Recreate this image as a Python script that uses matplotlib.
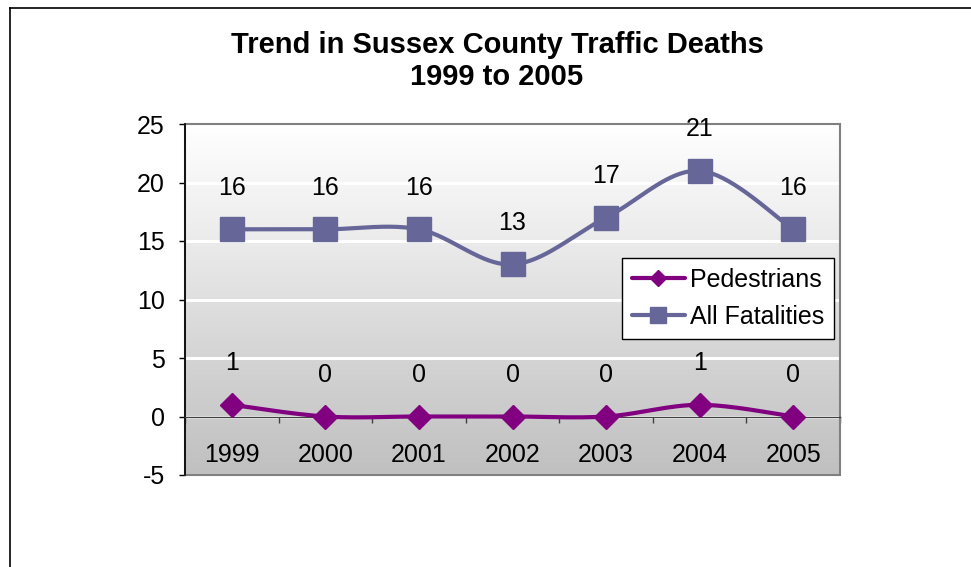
import numpy as np
import matplotlib.pyplot as plt
from matplotlib.colors import LinearSegmentedColormap
from matplotlib.lines import Line2D
from matplotlib.patches import Rectangle

plt.rcParams['font.family'] = ['Liberation Sans', 'DejaVu Sans']

years = ['1999', '2000', '2001', '2002', '2003', '2004', '2005']
pedestrians = [1, 0, 0, 0, 0, 1, 0]
all_fatalities = [16, 16, 16, 13, 17, 21, 16]
y_ticks = [-5, 0, 5, 10, 15, 20, 25]

COLOR_PED = '#800080'
COLOR_ALL = '#666699'
FS = 18


def smooth(xs, ys, n=40):
    # Catmull-Rom spline, close to Excel's "smoothed line" option
    xs = np.asarray(xs, float)
    ys = np.asarray(ys, float)
    px = np.concatenate([[xs[0]], xs, [xs[-1]]])
    py = np.concatenate([[ys[0]], ys, [ys[-1]]])
    out_x, out_y = [], []
    t = np.linspace(0, 1, n)
    for i in range(1, len(px) - 2):
        p0, p1, p2, p3 = px[i - 1], px[i], px[i + 1], px[i + 2]
        q0, q1, q2, q3 = py[i - 1], py[i], py[i + 1], py[i + 2]
        c1x, c1y = p1 + (p2 - p0) / 6, q1 + (q2 - q0) / 6
        c2x, c2y = p2 - (p3 - p1) / 6, q2 - (q3 - q1) / 6
        bx = (1 - t)**3 * p1 + 3 * (1 - t)**2 * t * c1x + 3 * (1 - t) * t**2 * c2x + t**3 * p2
        by = (1 - t)**3 * q1 + 3 * (1 - t)**2 * t * c1y + 3 * (1 - t) * t**2 * c2y + t**3 * q2
        out_x.extend(bx)
        out_y.extend(by)
    return np.array(out_x), np.array(out_y)


fig = plt.figure(figsize=(9.71, 5.67), dpi=100)
ax = fig.add_axes([185 / 971, 1 - 475 / 567, 655 / 971, 351 / 567])

x = np.arange(len(years))
ax.set_xlim(-0.5, len(years) - 0.5)
ax.set_ylim(-5, 25)

# gradient background (white at top to grey at bottom)
cmap = LinearSegmentedColormap.from_list('bg', ['#c0c0c0', '#d4d4d4', '#ebebeb', '#ffffff'])
grad = np.linspace(0, 1, 256).reshape(-1, 1)
ax.imshow(grad, cmap=cmap, aspect='auto', extent=(0, 1, 0, 1),
          transform=ax.transAxes, origin='lower', zorder=0)

for v in y_ticks:
    ax.axhline(v, color='white', lw=2.2, zorder=1)

# plot area border
ax.add_patch(Rectangle((0, 0), 1, 1, transform=ax.transAxes, fill=False,
                       edgecolor='#808080', lw=1.5, zorder=2, clip_on=False))

# series
sx, sy = smooth(x, all_fatalities)
ax.plot(sx, sy, color=COLOR_ALL, lw=3, zorder=4, solid_capstyle='round')
ax.plot(x, all_fatalities, ls='none', marker='s', ms=17, color=COLOR_ALL, zorder=5)

px_, py_ = smooth(x, pedestrians)
ax.plot(px_, py_, color=COLOR_PED, lw=3, zorder=4, solid_capstyle='round')
ax.plot(x, pedestrians, ls='none', marker='D', ms=12.5, color=COLOR_PED, zorder=5)

for xi, v in zip(x, all_fatalities):
    ax.annotate(str(v), (xi, v), xytext=(0, 30), textcoords='offset points',
                ha='center', va='center', fontsize=FS, zorder=6)
for xi, v in zip(x, pedestrians):
    ax.annotate(str(v), (xi, v), xytext=(0, 30), textcoords='offset points',
                ha='center', va='center', fontsize=FS, zorder=6)

# axes styling
for s in ['top', 'right']:
    ax.spines[s].set_visible(False)
ax.spines['bottom'].set_position(('data', 0))
ax.spines['bottom'].set_color('#404040')
ax.spines['bottom'].set_linewidth(1)
ax.spines['bottom'].set_zorder(3)
ax.spines['left'].set_color('black')
ax.spines['left'].set_linewidth(1.2)
ax.spines['left'].set_zorder(3)

ax.set_yticks(y_ticks)
ax.set_yticklabels([str(v) for v in y_ticks])
ax.tick_params(axis='y', direction='out', length=4.5, width=1, pad=10, labelsize=FS)

ax.set_xticks(x)
ax.set_xticklabels(years)
ax.set_xticks(np.arange(len(years) + 1) - 0.5, minor=True)
ax.tick_params(axis='x', which='major', length=0, pad=19, labelsize=FS)
ax.tick_params(axis='x', which='minor', direction='out', length=4.5, width=1, color='#404040')

leg_handles = [
    Line2D([], [], color=COLOR_PED, lw=3, marker='D', ms=8.5, solid_capstyle='round'),
    Line2D([], [], color=COLOR_ALL, lw=3, marker='s', ms=11, solid_capstyle='round'),
]
leg = ax.legend(leg_handles, ['Pedestrians', 'All Fatalities'],
                loc='upper left', bbox_to_anchor=(622 / 971, 1 - 258 / 567),
                bbox_transform=fig.transFigure, borderaxespad=0,
                fontsize=FS, frameon=True, fancybox=False, framealpha=1,
                edgecolor='black', handlelength=2.1, handletextpad=0.2,
                labelspacing=0.5, borderpad=0.4)
leg.get_frame().set_linewidth(1)
leg.set_zorder(7)

fig.text(497 / 971, 1 - 61 / 567, 'Trend in Sussex County Traffic Deaths\n1999 to 2005',
         ha='center', va='center', fontsize=21, fontweight='bold', linespacing=1.15)

# outer chart border
fig.add_artist(Line2D([10 / 971, 10 / 971], [0, 1 - 8 / 567], color='black', lw=1.2,
                      transform=fig.transFigure))
fig.add_artist(Line2D([10 / 971, 1], [1 - 8 / 567, 1 - 8 / 567], color='black', lw=1.2,
                      transform=fig.transFigure))

fig.savefig('out.png', dpi=100, facecolor='white')
